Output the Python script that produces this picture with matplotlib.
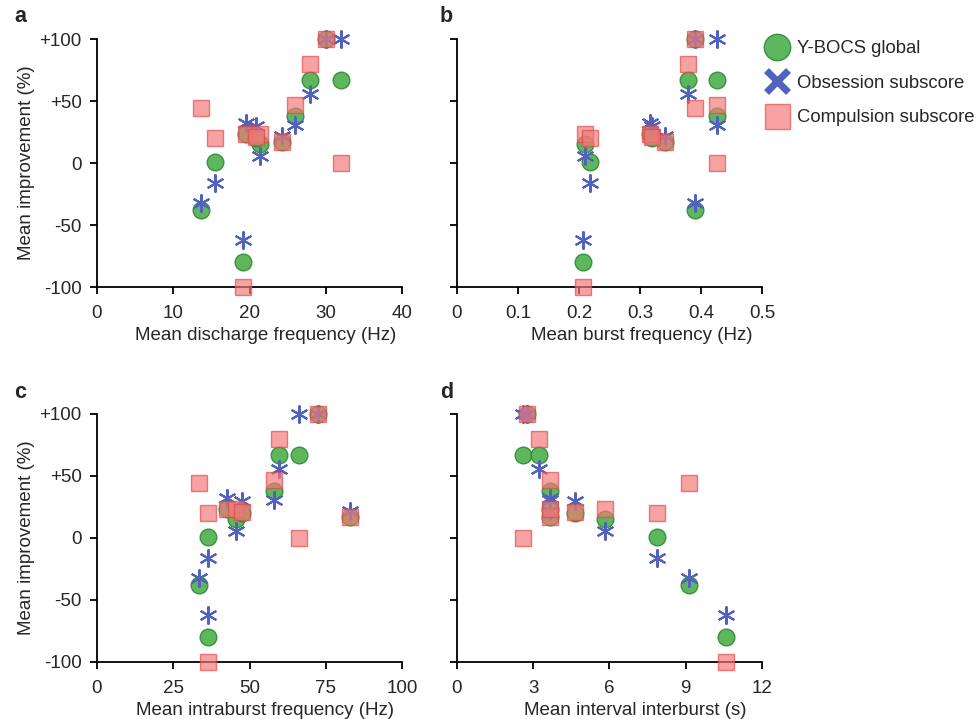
import numpy as np
import matplotlib
matplotlib.use("Agg")
import matplotlib.pyplot as plt
from matplotlib.lines import Line2D

plt.rcParams["font.family"] = ["Liberation Sans", "DejaVu Sans"]
plt.rcParams["font.size"] = 13.5
plt.rcParams["text.color"] = "#262626"
plt.rcParams["axes.labelcolor"] = "#262626"
plt.rcParams["xtick.labelcolor"] = "#262626"
plt.rcParams["ytick.labelcolor"] = "#262626"

# improvement (%) per patient: global, obsession, compulsion
ybocs_global = [67, 100, 67, 38, 17, 23, 15, 20, 1, -38, -80]
obsession = [100, 100, 56, 31, 22, 32, 6, 30, -16, -32, -62]
compulsion = [0, 100, 80, 47, 17, 23, 23, 21, 20, 44, -100]

# x values per panel, same patient order
discharge_freq = [32.0, 30.0, 27.9, 26.0, 24.3, 19.6, 21.4, 20.8, 15.5, 13.7, 19.2]
burst_freq = [0.427, 0.390, 0.378, 0.426, 0.341, 0.316, 0.210, 0.320, 0.218, 0.390, 0.207]
intraburst_freq = [66.2, 72.3, 59.8, 58.0, 83.0, 42.5, 45.5, 47.4, 36.5, 33.4, 36.5]
interburst = [2.6, 2.77, 3.24, 3.66, 3.66, 3.66, 5.83, 4.65, 7.86, 9.11, 10.6]

panels = [
    ("a", discharge_freq, "Mean discharge frequency (Hz)", [0, 10, 20, 30, 40], ["0", "10", "20", "30", "40"]),
    ("b", burst_freq, "Mean burst frequency (Hz)", [0, 0.1, 0.2, 0.3, 0.4, 0.5], ["0", "0.1", "0.2", "0.3", "0.4", "0.5"]),
    ("c", intraburst_freq, "Mean intraburst frequency (Hz)", [0, 25, 50, 75, 100], ["0", "25", "50", "75", "100"]),
    ("d", interburst, "Mean interval interburst (s)", [0, 3, 6, 9, 12], ["0", "3", "6", "9", "12"]),
]
yticks = [100, 50, 0, -50, -100]
ytick_labels = ["+100", "+50", "0", "-50", "-100"]

green = "#4cb04a"
green_edge = "#2e8b34"
blue = "#5062bd"
red = "#f47878"
red_edge = "#e04848"

W, H = 979, 719
fig = plt.figure(figsize=(W / 100, H / 100), dpi=100)

# axes boxes in pixels: left, top, right, bottom
boxes = [(97, 39, 402, 287), (457, 39, 762, 287), (97, 414, 402, 662), (457, 414, 762, 662)]
# x label centres in pixels (the labels sit right of the axis centre)
label_x = [266, 642, 265, 635]

for i, (letter, xs, xlabel, xt, xtl) in enumerate(panels):
    l, t, r, b = boxes[i]
    ax = fig.add_axes([l / W, 1 - b / H, (r - l) / W, (b - t) / H])
    ax.plot(xs, ybocs_global, "o", ms=12, mfc=green, mec=green_edge, mew=1, alpha=0.9, clip_on=False, zorder=3)
    ax.plot(xs, obsession, ls="none", marker=(6, 2, 0), ms=13, mec=blue, mew=1.5, clip_on=False, zorder=4)
    ax.plot(xs, compulsion, "s", ms=11, mfc=red, mec=red_edge, mew=1, alpha=0.68, clip_on=False, zorder=5)
    ax.set_xlim(xt[0], xt[-1])
    ax.set_ylim(-100, 100)
    ax.set_xticks(xt)
    ax.set_xticklabels(xtl)
    ax.set_yticks(yticks)
    if i % 2 == 0:
        ax.set_yticklabels(ytick_labels)
        ax.set_ylabel("Mean improvement (%)", labelpad=3)
    else:
        ax.set_yticklabels([])
    ax.set_xlabel(xlabel)
    ax.xaxis.set_label_coords((label_x[i] - l) / (r - l), -40 / (b - t))
    for s in ["top", "right"]:
        ax.spines[s].set_visible(False)
    for s in ["left", "bottom"]:
        ax.spines[s].set_linewidth(1.3)
    ax.tick_params(direction="out", length=5, width=1.3, pad=6)
    ax.tick_params(axis="x", pad=8)
    fig.text((l - 83) / W if i % 2 == 0 else (l - 17) / W, 1 - (t - 22) / H, letter,
             fontsize=15.5, fontweight="bold", va="center", ha="left")

handles = [
    Line2D([], [], ls="none", marker="o", ms=19, mfc=green, mec=green_edge, alpha=0.9),
    Line2D([], [], ls="none", marker="x", ms=16, mec=blue, mew=5),
    Line2D([], [], ls="none", marker="s", ms=18, mfc=red, mec=red_edge, alpha=0.68),
]
fig.legend(handles, ["Y-BOCS global", "Obsession subscore", "Compulsion subscore"],
           loc="upper left", bbox_to_anchor=(757 / W, 1 - 33 / H), frameon=False,
           handletextpad=0.35, labelspacing=0.95, borderaxespad=0, handlelength=1.4, fontsize=13.3)

fig.savefig("out.png", dpi=100)
